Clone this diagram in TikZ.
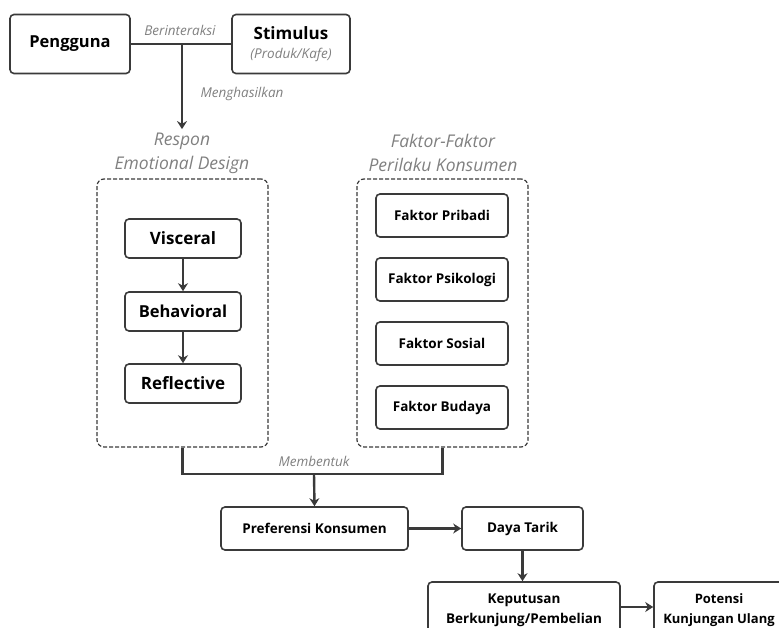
\documentclass[tikz,border=0pt]{standalone}
\usepackage{fontspec}
\setmainfont{Open Sans}
\usetikzlibrary{arrows.meta}
\definecolor{edge}{HTML}{3A3A3A}
\definecolor{note}{HTML}{808080}
\tikzset{
  box/.style={draw=edge, line width=1.6pt, rounded corners=4pt, fill=white, align=center, font=\bfseries},
  group/.style={draw=edge, line width=1.2pt, dashed, dash pattern=on 4pt off 2pt, rounded corners=7pt},
  link/.style={draw=edge, line width=2.4pt},
  arr/.style={link, -{Stealth[length=8pt,width=10pt]}},
  note/.style={text=note, font=\itshape\fontsize{13.5}{14}\selectfont},
  title/.style={text=note, font=\itshape\fontsize{17.5}{24}\selectfont, align=center}
}
\begin{document}
\begin{tikzpicture}[x=1pt,y=-1pt]
\useasboundingbox (0,0) rectangle (779,628);
\node[box, minimum width=120, minimum height=59, font=\bfseries\fontsize{16.5}{18}\selectfont] (user) at (70,44) {Pengguna};
\node[box, minimum width=118, minimum height=59, font=\bfseries\fontsize{17}{20}\selectfont] (stim) at (291,44) {Stimulus\\[-1pt]{\mdseries\itshape\fontsize{13.5}{14}\selectfont\color{note}(Produk/Kafe)}};
\node[title] (respon) at (182,153) {Respon\\Emotional Design};
\node[title] (faktor) at (443,153) {Faktor-Faktor\\Perilaku Konsumen};
\node[group, minimum width=171, minimum height=268] (left) at (182.5,313) {};
\node[group, minimum width=171, minimum height=268] (right) at (442.5,313) {};
\node[box, minimum width=116, minimum height=39, font=\bfseries\fontsize{17}{18}\selectfont] (visc) at (183,238.5) {Visceral};
\node[box, minimum width=116, minimum height=39, font=\bfseries\fontsize{16.5}{18}\selectfont] (behav) at (183,311.5) {Behavioral};
\node[box, minimum width=116, minimum height=39, font=\bfseries\fontsize{17}{18}\selectfont] (refl) at (183,383.5) {Reflective};
\node[box, minimum width=132, minimum height=43, font=\bfseries\fontsize{13.5}{15}\selectfont] (pribadi) at (442,215.5) {Faktor Pribadi};
\node[box, minimum width=132, minimum height=43, font=\bfseries\fontsize{13.5}{15}\selectfont] (psiko) at (442,279.5) {Faktor Psikologi};
\node[box, minimum width=132, minimum height=43, font=\bfseries\fontsize{13.5}{15}\selectfont] (sosial) at (442,343.5) {Faktor Sosial};
\node[box, minimum width=132, minimum height=43, font=\bfseries\fontsize{13.5}{15}\selectfont] (budaya) at (442,407.5) {Faktor Budaya};
\node[box, minimum width=187, minimum height=43, font=\bfseries\fontsize{13.5}{15}\selectfont] (pref) at (314.5,528.5) {Preferensi Konsumen};
\node[box, minimum width=121, minimum height=43, font=\bfseries\fontsize{13.5}{15}\selectfont] (daya) at (522.5,528.5) {Daya Tarik};
\node[box, minimum width=192, minimum height=56, font=\bfseries\fontsize{13.5}{20}\selectfont] (kep) at (524,610) {Keputusan\\Berkunjung/Pembelian};
\node[box, minimum width=130, minimum height=56, font=\bfseries\fontsize{13}{20}\selectfont] (potensi) at (719,610) {Potensi\\Kunjungan Ulang};
\coordinate (meet) at (182,44);
\coordinate (join) at (314,474);
\draw[link] (user.east) -- (stim.west);
\node[note] (lbl1) at (180,30) {Berinteraksi};
\draw[arr] (meet) -- (respon.north);
\node[note] (lbl2) at (242,94) {Menghasilkan};
\draw[arr] (visc) -- (behav);
\draw[arr] (behav) -- (refl);
\draw[link] (left.south) |- (join) -| (right.south);
\node[note] (lbl3) at (314,461) {Membentuk};
\draw[arr] (join) -- (pref.north);
\draw[arr] (pref.east) -- (daya.west);
\draw[arr] (daya.south) -- (daya.south |- kep.north);
\draw[arr] (kep.east |- 0,607) -- (potensi.west |- 0,607);
\end{tikzpicture}
\end{document}
